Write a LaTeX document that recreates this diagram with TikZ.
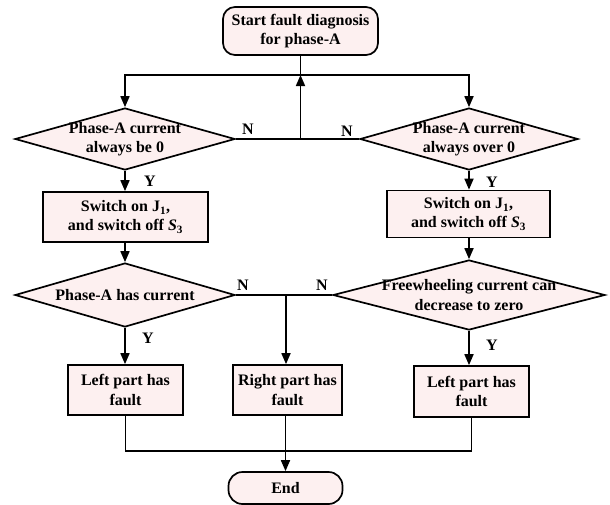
\documentclass[tikz,border=0pt]{standalone}
\usepackage{fontspec}
\setmainfont{Liberation Serif}
\usetikzlibrary{shapes.geometric,arrows.meta,calc}
\definecolor{boxfill}{RGB}{253,240,240}
\begin{document}
\begin{tikzpicture}[x=1pt,y=-1pt,
  every node/.style={font=\bfseries\fontsize{16}{19.5}\selectfont},
  ln/.style={line width=1.7pt},
  arr/.style={ln,-{Triangle[length=11pt,width=9pt]}},
  term/.style={draw,line width=1.7pt,fill=boxfill,rounded corners=12pt,align=center,inner sep=0pt},
  proc/.style={draw,line width=1.7pt,fill=boxfill,align=center,inner sep=0pt},
  dec/.style={draw,diamond,line width=1.7pt,fill=boxfill,inner sep=0pt},
  lab/.style={inner sep=0pt}
]
\useasboundingbox[fill=white] (0,0) rectangle (610,504);

\node[term, minimum width=155, minimum height=48] (start) at (300.5,31) {Start fault diagnosis\\for phase-A};
\coordinate (jtop) at (300.5,75);

\node[dec, minimum width=220, minimum height=62] (d1) at (125,139) {};
\node[lab,align=center] (d1t) at (d1.center) {Phase-A current\\always be 0};
\node[dec, minimum width=218, minimum height=62] (d2) at (469,139) {};
\node[lab,align=center] (d2t) at (d2.center) {Phase-A current\\always over 0};
\coordinate (jmid) at (jtop |- d1.east);

\node[proc, minimum width=165, minimum height=50] (b1) at (125.5,217) {Switch on J\textsubscript{1},\\and switch off \textit{S}\textsubscript{3}};
\node[proc, minimum width=163, minimum height=47] (b2) at (468.5,214) {Switch on J\textsubscript{1},\\and switch off \textit{S}\textsubscript{3}};

\node[dec, minimum width=220, minimum height=64] (d3) at (125,295) {};
\node[lab] (d3t) at (d3.center) {Phase-A has current};
\node[dec, minimum width=272, minimum height=70] (d4) at (469,295) {};
\node[lab,align=center] (d4t) at (d4.center) {Freewheeling current can\\decrease to zero};
\coordinate (jn) at (286,295);

\node[proc, minimum width=115, minimum height=50] (b3) at (125.5,390) {Left part has\\fault};
\node[proc, minimum width=109, minimum height=50] (b4) at (287.5,390) {Right part has\\fault};
\node[proc, minimum width=115, minimum height=51] (b5) at (471.5,391.5) {Left part has\\fault};
\coordinate (jbot) at (285.5,451);
\node[term, minimum width=114, minimum height=32, rounded corners=14pt] (end) at (285.5,488) {End};

\node[lab] (n1) at (248,129) {N};
\node[lab] (n2) at (347,131) {N};
\node[lab] (n3) at (243,285) {N};
\node[lab] (n4) at (322,285) {N};
\node[lab] (y1) at (150,181) {Y};
\node[lab] (y2) at (492,182) {Y};
\node[lab] (y3) at (148,338) {Y};
\node[lab] (y4) at (492,345) {Y};

\draw[ln] (start) -- (jtop);
\draw[arr] (jtop) -| (d1.north);
\draw[arr] (jtop) -| (d2.north);
\draw[ln] (d1.east) -- (d2.west);
\draw[arr] (jmid) -- (jtop);
\draw[arr] (d1.south) -- (b1.north -| d1.south);
\draw[arr] (d2.south) -- (b2.north -| d2.south);
\draw[arr] (b1.south -| d3.north) -- (d3.north);
\draw[arr] (b2.south -| d4.north) -- (d4.north);
\draw[ln] (d3.east) -- (d4.west);
\draw[arr] (jn) -- (b4.north -| jn);
\draw[arr] (d3.south) -- (b3.north -| d3.south);
\draw[arr] (d4.south) -- (b5.north -| d4.south);
\draw[ln] (b3.south) |- (b5.south |- jbot) -- (b5.south);
\draw[ln] (b4.south -| jbot) -- (jbot);
\draw[arr] (jbot) -- (end.north);
\end{tikzpicture}
\end{document}
